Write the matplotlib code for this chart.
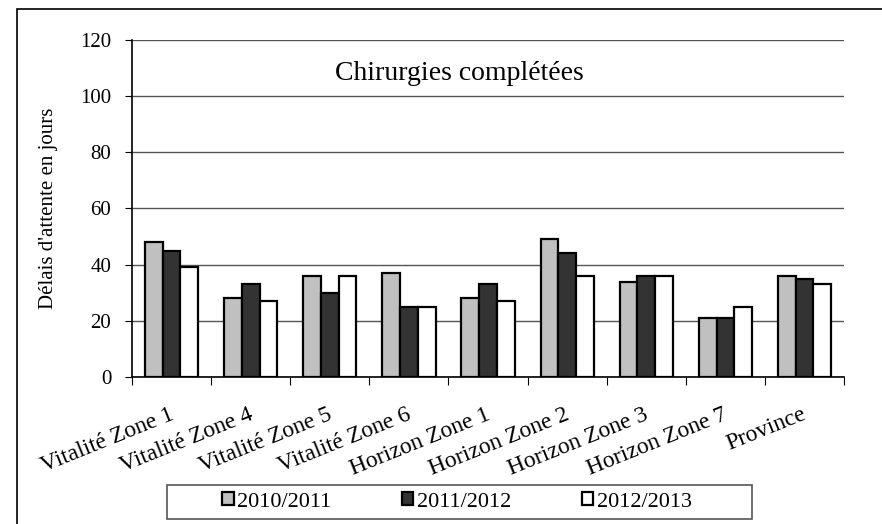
import matplotlib.pyplot as plt
import numpy as np
from matplotlib.patches import Rectangle

categories = ["Vitalité Zone 1", "Vitalité Zone 4", "Vitalité Zone 5", "Vitalité Zone 6",
              "Horizon Zone 1", "Horizon Zone 2", "Horizon Zone 3", "Horizon Zone 7", "Province"]
series_names = ["2010/2011", "2011/2012", "2012/2013"]
v2010 = [48, 28, 36, 37, 28, 49, 34, 21, 36]
v2011 = [45, 33, 30, 25, 33, 44, 36, 21, 35]
v2012 = [39, 27, 36, 25, 27, 36, 36, 25, 33]
colors = ["#c0c0c0", "#333333", "#ffffff"]

plt.rcParams['font.family'] = ['Liberation Serif', 'DejaVu Serif']

fig = plt.figure(figsize=(8.82, 5.24), dpi=100)
ax = fig.add_axes([0.1497, 0.2805, 0.8073, 0.6432])

# outer chart border
fig.patches.append(Rectangle((17 / 882, -0.1), 1.2, 1 - 9 / 524 + 0.1, transform=fig.transFigure,
                             fill=False, edgecolor='black', linewidth=1.2))

x = np.arange(len(categories))
w = 0.224
bars = []
for i, (vals, c, name) in enumerate(zip([v2010, v2011, v2012], colors, series_names)):
    b = ax.bar(x + (i - 1) * w, vals, w, color=c, edgecolor='black', linewidth=1.6,
               label=name, zorder=3)
    bars.append(b)

ax.set_xlim(-0.5, len(categories) - 0.5)
ax.set_ylim(0, 120)
ax.set_yticks(range(0, 121, 20))
ax.yaxis.grid(True, color='#555555', linewidth=1, zorder=0)
ax.set_axisbelow(True)
ax.tick_params(axis='y', labelsize=15, length=5, direction='out', pad=10)

ax.set_xticks(np.arange(-0.5, len(categories), 1))
ax.set_xticklabels([])
ax.tick_params(axis='x', length=6, direction='out')
for xi, lab in zip(x, categories):
    ax.annotate(lab, xy=(xi, 0), xycoords=('data', 'axes fraction'), xytext=(-2, -19.5),
                textcoords='offset points', rotation=22, ha='right', va='top',
                rotation_mode='anchor', fontsize=17)

for s in ['top', 'right']:
    ax.spines[s].set_visible(False)
ax.spines['left'].set_linewidth(1.2)
ax.spines['bottom'].set_linewidth(1.2)

ax.text(0.46, 0.9, "Chirurgies complétées", transform=ax.transAxes, ha='center',
        va='center', fontsize=20)
ax.set_ylabel("Délais d'attente en jours", fontsize=15, labelpad=16)

# legend
fig.patches.append(Rectangle((167 / 882, 1 - 519 / 524), 585 / 882, 34 / 524,
                             transform=fig.transFigure, fill=False,
                             edgecolor='#555555', linewidth=1.2))
leg = fig.legend(handles=bars, labels=series_names, loc='center',
                 bbox_to_anchor=(457 / 882, 1 - 502 / 524), ncol=3, fontsize=16,
                 frameon=False, handlelength=0.5, handleheight=0.5,
                 handletextpad=0.15, columnspacing=3.2)

fig.savefig("out.png", dpi=100)
